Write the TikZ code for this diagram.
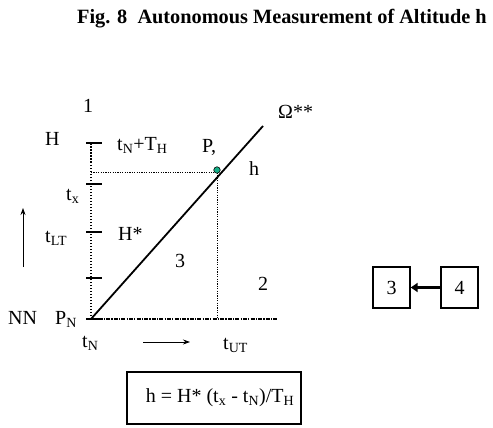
\documentclass[tikz,border=0pt]{standalone}
\usepackage{fontspec}
\setmainfont{Liberation Serif}
\usetikzlibrary{arrows.meta}
\definecolor{dotgreen}{RGB}{20,175,135}
\begin{document}
\begin{tikzpicture}[x=1pt,y=-1pt,
  lbl/.style={inner sep=0pt, anchor=base west, font=\fontsize{20}{24}\selectfont},
  tickmark/.style={line width=2.7pt},
  axisdots/.style={line width=2pt, dash pattern=on 1.5pt off 1.5pt},
  guide/.style={line width=0.9pt, dash pattern=on 1.2pt off 1.2pt},
  baseaxis/.style={line width=1.6pt, dash pattern=on 4pt off 1.2pt on 1.2pt off 1.2pt},
  smallarrow/.style={line width=0.8pt, -{Stealth[length=7pt,width=5pt]}},
  numbox/.style={draw, line width=1.4pt, minimum width=37pt, minimum height=41pt, inner sep=0pt, font=\fontsize{20}{24}\selectfont}
]
\useasboundingbox (0,0) rectangle (493,428);

% title
\node[lbl, font=\fontsize{20.3}{24}\selectfont\bfseries] (title) at (77,24) {Fig. 8\ \ Autonomous Measurement of Altitude h};

% axis coordinates
\coordinate (O) at (91,319);
\coordinate (Htop) at (91,143);
\coordinate (Omegaend) at (263,126);
\coordinate (xaxisend) at (278,319);
\coordinate (hguideL) at (91,172);
\coordinate (hguideR) at (214,172);
\coordinate (vguideT) at (217,173);
\coordinate (vguideB) at (217,319);

% vertical dotted axis
\draw[axisdots] (O) -- (Htop);
% horizontal base axis
\draw[baseaxis] (O) -- (xaxisend);
% guides
\draw[guide] (hguideL) -- (hguideR);
\draw[guide] (vguideT) -- (vguideB);

% ticks
\foreach \yy/\nm in {143/ta,184/tb,232/tc,278/td,319/te}{
  \coordinate (\nm L) at (86,\yy);
  \coordinate (\nm R) at (102,\yy);
  \draw[tickmark] (\nm L) -- (\nm R);
}

% diagonal
\draw[line width=1.8pt] (O) -- (Omegaend);

% point P
\node[circle, draw, line width=0.6pt, fill=dotgreen, inner sep=0pt, minimum size=6.5pt] (P) at (217,170) {};

% labels
\node[lbl] (one) at (83,112) {1};
\node[lbl] (Hl) at (45,145) {H};
\node[lbl] (tNTH) at (117,150) {t\textsubscript{N}+T\textsubscript{H}};
\node[lbl] (Pc) at (202,152) {P,};
\node[lbl] (Om) at (278,118) {Ω**};
\node[lbl] (hl) at (249,175) {h};
\node[lbl] (tx) at (66,200) {t\textsubscript{x}};
\node[lbl] (tLT) at (45,242) {t\textsubscript{LT}};
\node[lbl] (Hs) at (118,240) {H*};
\node[lbl] (three) at (175,267) {3};
\node[lbl] (two) at (258,290) {2};
\node[lbl] (NN) at (8,324) {NN};
\node[lbl] (PN) at (55,324) {P\textsubscript{N}};
\node[lbl] (tN) at (82,347) {t\textsubscript{N}};
\node[lbl] (tUT) at (223,349) {t\textsubscript{UT}};

% direction arrows
\coordinate (upA) at (23,267);
\coordinate (upB) at (23,208);
\draw[smallarrow] (upA) -- (upB);
\coordinate (rA) at (143,342);
\coordinate (rB) at (190,342);
\draw[smallarrow] (rA) -- (rB);

% formula box
\node[draw, line width=2pt, minimum width=174pt, minimum height=52pt, inner sep=0pt,
      font=\fontsize{20}{24}\selectfont] (formula) at (214,398)
  {\hspace*{12pt}h = H* (t\textsubscript{x} - t\textsubscript{N})/T\textsubscript{H}};

% boxes 3 and 4
\node[numbox] (b3) at (391.5,287.5) {3};
\node[numbox] (b4) at (459.5,287.5) {4};
\draw[line width=2.3pt, -{Triangle[length=7pt,width=9pt]}] (b4.west) -- (b3.east);
\end{tikzpicture}
\end{document}
